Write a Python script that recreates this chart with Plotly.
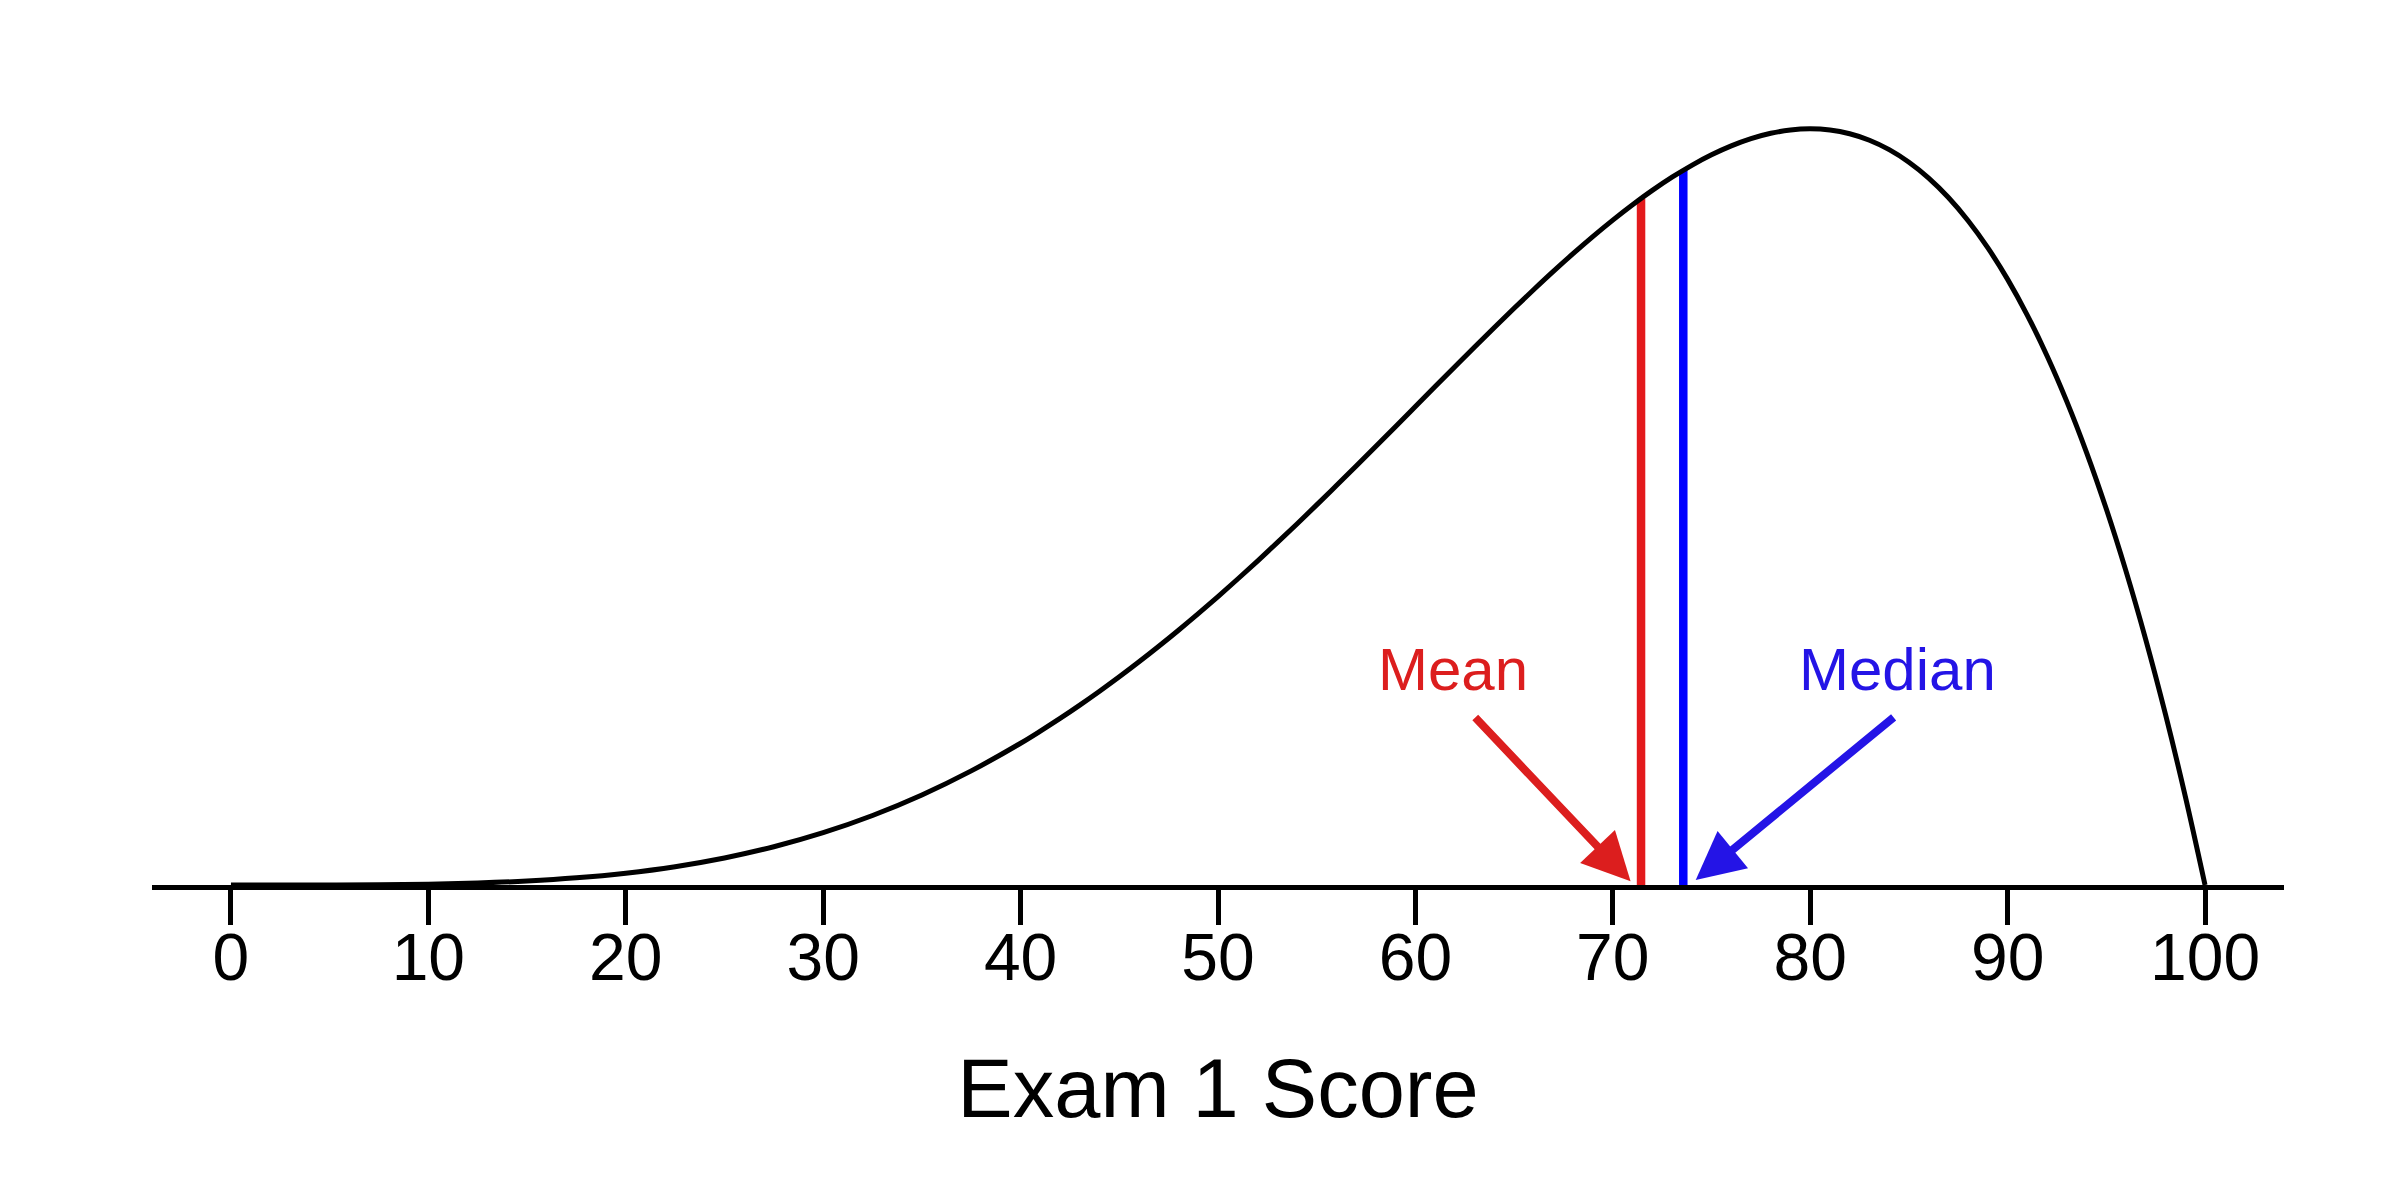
import plotly.graph_objects as go

# Density curve of exam scores
score = [0, 2.5, 5, 7.5, 10, 12.5, 15, 17.5, 20, 22.5, 25, 27.5, 30, 32.5, 35, 37.5,
         40, 41, 42, 43, 44, 45, 46, 47, 48, 49, 50, 51, 52, 53, 54, 55, 56, 57, 58, 59,
         60, 61, 62, 63, 64, 65, 66, 67, 68, 69, 70, 71, 72, 73, 74, 75, 76, 77, 78, 79,
         80, 81, 82, 83, 84, 85, 86, 87, 88, 89, 90, 91, 92, 93, 94, 95, 96, 97, 98, 99, 100]
density = [0.0, 0.00001, 0.00018, 0.00088, 0.0027, 0.0064, 0.0129, 0.0232, 0.0384,
           0.0596, 0.0879, 0.1244, 0.1701, 0.2259, 0.2926, 0.3708,
           0.4608, 0.5002, 0.5414, 0.5846, 0.6297, 0.6766, 0.7254, 0.7759, 0.8281, 0.8820,
           0.9375, 0.9945, 1.0529, 1.1126, 1.1734, 1.2353, 1.2982, 1.3617, 1.4259, 1.4904,
           1.5552, 1.6200, 1.6845, 1.7486, 1.8119, 1.8743, 1.9354, 1.9950, 2.0526, 2.1080,
           2.1609, 2.2108, 2.2574, 2.3003, 2.3390, 2.3731, 2.4021, 2.4256, 2.4430, 2.4539,
           2.4576, 2.4537, 2.4415, 2.4204, 2.3898, 2.3490, 2.2974, 2.2343, 2.1589, 2.0705,
           1.9683, 1.8515, 1.7193, 1.5709, 1.4054, 1.2218, 1.0192, 0.7968, 0.5534, 0.2882, 0.0]

mean_x, mean_h = 71.43, 2.231
median_x, median_h = 73.57, 2.323

tick_vals = [0, 10, 20, 30, 40, 50, 60, 70, 80, 90, 100]
tick_text = ["0", "10", "20", "30", "40", "50", "60", "70", "80", "90", "100"]

# annotation positions (data units)
mean_label = (61.9, 0.70)
mean_arrow_tail = (62.96, 0.549)
mean_arrow_tip = (70.9, 0.012)
median_label = (84.4, 0.70)
median_arrow_tail = (84.3, 0.549)
median_arrow_tip = (74.2, 0.016)

RED_LINE = "#E31A1C"
RED_ARROW = "#DC1E1E"
BLUE_LINE = "#0000FF"
BLUE_ARROW = "#2414E6"
FONT = "Liberation Sans, Arial, Helvetica, sans-serif"

fig = go.Figure()
fig.add_trace(go.Scatter(x=[mean_x, mean_x], y=[0, mean_h], mode="lines",
                         line=dict(color=RED_LINE, width=8.5), hoverinfo="skip"))
fig.add_trace(go.Scatter(x=[median_x, median_x], y=[0, median_h], mode="lines",
                         line=dict(color=BLUE_LINE, width=8.5), hoverinfo="skip"))
fig.add_trace(go.Scatter(x=score, y=density, mode="lines",
                         line=dict(color="black", width=5, shape="spline", smoothing=1)))

fig.add_annotation(x=mean_label[0], y=mean_label[1], text="Mean", showarrow=False,
                   font=dict(family=FONT, size=60, color=RED_ARROW), yanchor="middle")
fig.add_annotation(x=median_label[0], y=median_label[1], text="Median", showarrow=False,
                   font=dict(family=FONT, size=60, color=BLUE_ARROW), yanchor="middle")
fig.add_annotation(x=mean_arrow_tip[0], y=mean_arrow_tip[1],
                   ax=mean_arrow_tail[0], ay=mean_arrow_tail[1], axref="x", ayref="y",
                   text="", showarrow=True, arrowhead=2, arrowsize=1.2, arrowwidth=8,
                   arrowcolor=RED_ARROW, standoff=0)
fig.add_annotation(x=median_arrow_tip[0], y=median_arrow_tip[1],
                   ax=median_arrow_tail[0], ay=median_arrow_tail[1], axref="x", ayref="y",
                   text="", showarrow=True, arrowhead=2, arrowsize=1.2, arrowwidth=8,
                   arrowcolor=BLUE_ARROW, standoff=0)

fig.update_layout(
    width=2400, height=1200,
    margin=dict(l=144, r=124, t=77, b=323),
    paper_bgcolor="white", plot_bgcolor="white",
    showlegend=False,
    font=dict(family=FONT, color="black"),
    xaxis=dict(range=[-4, 104], tickmode="array", tickvals=tick_vals, ticktext=tick_text,
               showline=True, linecolor="black", linewidth=5,
               ticks="outside", ticklen=35, tickwidth=4.5, tickcolor="black",
               ticklabelstandoff=-24,
               tickfont=dict(family=FONT, size=66, color="black"),
               showgrid=False, zeroline=False,
               title=dict(text="Exam 1 Score", font=dict(family=FONT, size=83, color="black"),
                          standoff=67)),
    yaxis=dict(range=[0, 2.6], visible=False, showgrid=False, zeroline=False),
)

fig.write_html("out.html")
